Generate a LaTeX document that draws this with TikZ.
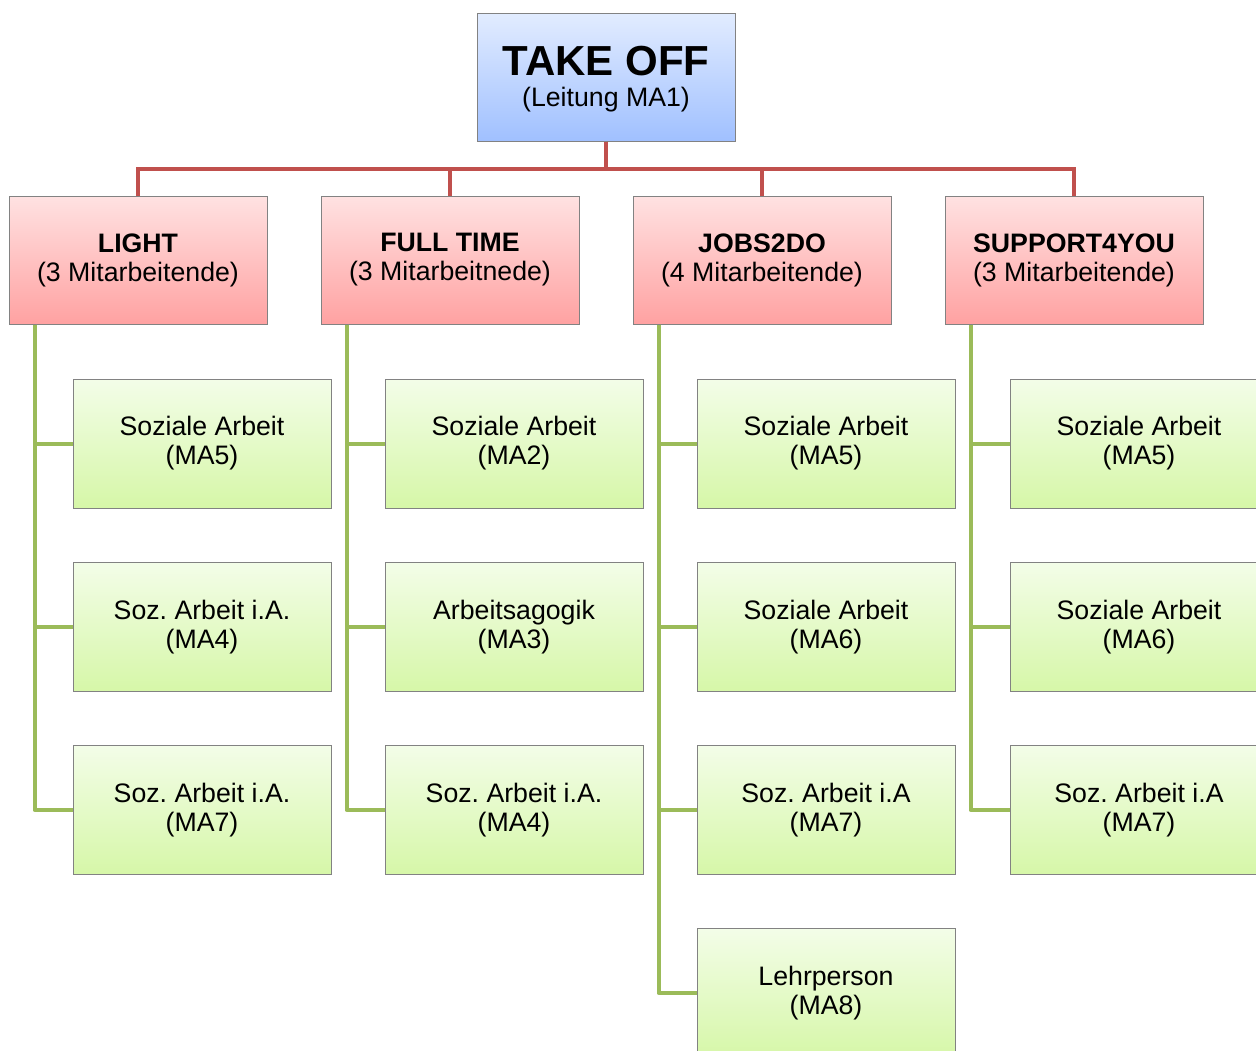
\documentclass[tikz,border=0pt]{standalone}
\usepackage{fontspec}
\setmainfont{Liberation Sans}
\frenchspacing
\definecolor{bordergray}{RGB}{130,130,130}
\definecolor{redline}{RGB}{192,80,77}
\definecolor{greenline}{RGB}{155,187,89}
\definecolor{bluetop}{RGB}{226,236,255}
\definecolor{bluebot}{RGB}{160,192,255}
\definecolor{redtop}{RGB}{255,226,226}
\definecolor{redbot}{RGB}{255,162,162}
\definecolor{greentop}{RGB}{243,253,232}
\definecolor{greenbot}{RGB}{214,247,168}
\tikzset{
  basebox/.style={draw=bordergray, line width=1pt, minimum width=258pt, minimum height=128pt, align=center, inner sep=0pt, font=\fontsize{26.7}{29}\selectfont},
  topbox/.style={basebox, top color=bluetop, bottom color=bluebot},
  teambox/.style={basebox, top color=redtop, bottom color=redbot},
  staffbox/.style={basebox, top color=greentop, bottom color=greenbot, minimum height=129pt},
  rline/.style={draw=redline, line width=4pt},
  gline/.style={draw=greenline, line width=4pt, line join=round}
}
\begin{document}
\begin{tikzpicture}[x=1pt,y=-1pt]
\useasboundingbox (0,0) rectangle (1256,1050);
\clip (0,0) rectangle (1256,1050);
\fill[white] (0,0) rectangle (1256,1050);

\node[topbox] (T) at (606,77) {};
\node[align=center, inner sep=0pt, font=\fontsize{26.7}{29}\selectfont] (Tt) at (606,79) {{\fontsize{42}{44}\selectfont\bfseries TAKE OFF}\\[2pt](Leitung MA1)};

\node[teambox] (L) at (138,260) {\textbf{LIGHT}\\(3 Mitarbeitende)};
\node[teambox] (F) at (450,260) {\textbf{FULL TIME}\\(3 Mitarbeitnede)};
\node[teambox] (J) at (762,260) {\textbf{JOBS2DO}\\(4 Mitarbeitende)};
\node[teambox] (S) at (1074,260) {\textbf{SUPPORT4YOU}\\(3 Mitarbeitende)};

\node[staffbox] (L1) at (202,443.5) {Soziale Arbeit\\(MA5)};
\node[staffbox] (L2) at (202,627) {Soz. Arbeit i.A.\\(MA4)};
\node[staffbox] (L3) at (202,810) {Soz. Arbeit i.A.\\(MA7)};

\node[staffbox] (F1) at (514,443.5) {Soziale Arbeit\\(MA2)};
\node[staffbox] (F2) at (514,627) {Arbeitsagogik\\(MA3)};
\node[staffbox] (F3) at (514,810) {Soz. Arbeit i.A.\\(MA4)};

\node[staffbox] (J1) at (826,443.5) {Soziale Arbeit\\(MA5)};
\node[staffbox] (J2) at (826,627) {Soziale Arbeit\\(MA6)};
\node[staffbox] (J3) at (826,810) {Soz. Arbeit i.A\\(MA7)};
\node[staffbox] (J4) at (826,993) {Lehrperson\\(MA8)};

\node[staffbox] (S1) at (1139,443.5) {Soziale Arbeit\\(MA5)};
\node[staffbox] (S2) at (1139,627) {Soziale Arbeit\\(MA6)};
\node[staffbox] (S3) at (1139,810) {Soz. Arbeit i.A\\(MA7)};

% red connectors
\foreach \t in {L,F,J,S}{
  \draw[rline] (T.south) -- ++(0,27) -| (\t.north);
}

% green connectors
\foreach \t/\kids in {L/{L1,L2,L3}, F/{F1,F2,F3}, J/{J1,J2,J3,J4}, S/{S1,S2,S3}}{
  \foreach \k in \kids {
    \draw[gline] ([xshift=26pt]\t.south west) |- (\k.west);
  }
}
\end{tikzpicture}
\end{document}
